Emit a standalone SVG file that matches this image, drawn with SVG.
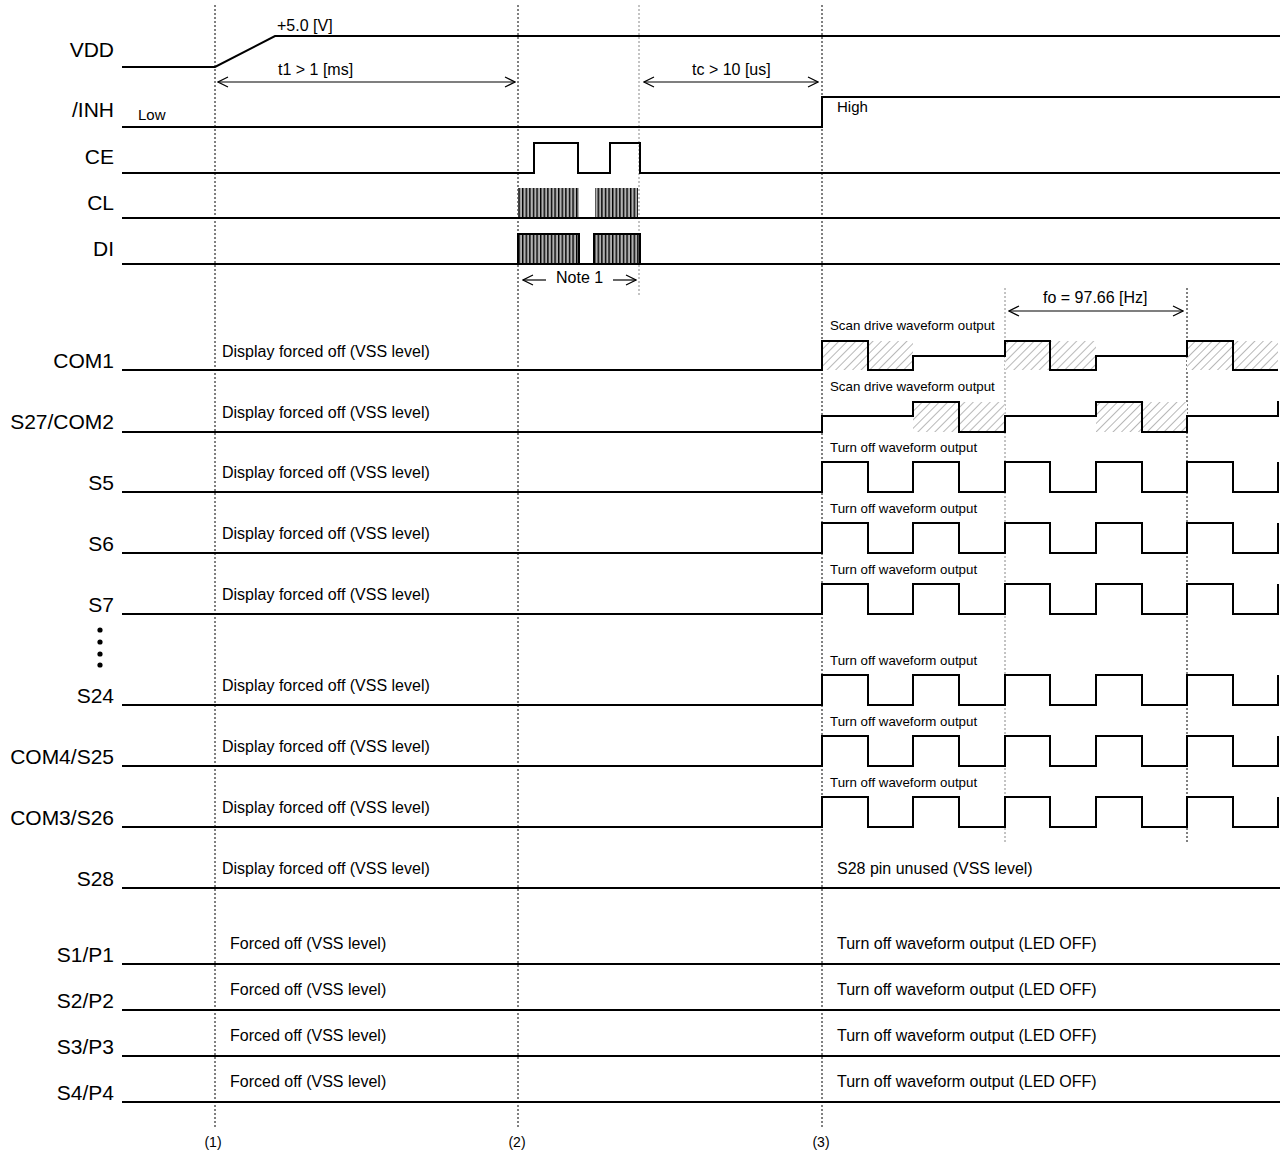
<svg xmlns="http://www.w3.org/2000/svg" width="1282" height="1151" viewBox="0 0 1282 1151">
<defs>
<pattern id="vstripe" width="3.6" height="10" patternUnits="userSpaceOnUse">
<rect width="3.6" height="10" fill="#b0b0b0"/>
<rect width="1.4" height="10" fill="#000"/>
</pattern>
<pattern id="hatch" width="6" height="6" patternUnits="userSpaceOnUse" patternTransform="rotate(45)">
<rect width="6" height="6" fill="#fff"/>
<line x1="0" y1="0" x2="0" y2="6" stroke="#999" stroke-width="1.4"/>
</pattern>
<marker id="ah" markerWidth="12" markerHeight="12" refX="11" refY="6" orient="auto-start-reverse" markerUnits="userSpaceOnUse">
<path d="M1,1 L11,6 L1,11" fill="none" stroke="#000" stroke-width="1.2"/>
</marker>
</defs>
<style>
.sig{fill:none;stroke:#000;stroke-width:2}
.lbl{font-family:"Liberation Sans",Arial,sans-serif;font-size:21px;text-anchor:end;fill:#000}
.t16{font-family:"Liberation Sans",Arial,sans-serif;font-size:16px;fill:#000}
.t15{font-family:"Liberation Sans",Arial,sans-serif;font-size:15px;fill:#000}
.t13{font-family:"Liberation Sans",Arial,sans-serif;font-size:13.3px;fill:#000}
.t14c{font-family:"Liberation Sans",Arial,sans-serif;font-size:14px;fill:#000;text-anchor:middle}
.vd{stroke:#000;stroke-width:1;stroke-dasharray:2,2;fill:none}
.vg{stroke:#888;stroke-width:1;stroke-dasharray:2,2;fill:none}
.dim{stroke:#000;stroke-width:1.2;fill:none;marker-start:url(#ah);marker-end:url(#ah)}
</style>
<rect width="1282" height="1151" fill="#fff"/>

<g id="guides">
<line class="vd" x1="215" y1="5" x2="215" y2="1128"/>
<line class="vd" x1="518" y1="5" x2="518" y2="1128"/>
<line class="vg" x1="639" y1="5" x2="639" y2="297"/>
<line class="vd" x1="822" y1="5" x2="822" y2="1128"/>
<line class="vg" x1="1005" y1="288" x2="1005" y2="842"/>
<line class="vd" x1="1187" y1="288" x2="1187" y2="842"/>
<text class="t14c" x="213" y="1147">(1)</text>
<text class="t14c" x="517" y="1147">(2)</text>
<text class="t14c" x="821" y="1147">(3)</text>
</g>

<g id="connectors">
<line class="dim" x1="218" y1="82" x2="515" y2="82"/>
<text class="t16" x="278" y="75">t1 &gt; 1 [ms]</text>
<line class="dim" x1="644" y1="82" x2="818" y2="82"/>
<text class="t16" x="692" y="75">tc &gt; 10 [us]</text>
<line class="dim" x1="1009" y1="311" x2="1183" y2="311"/>
<text class="t16" x="1043" y="303">fo = 97.66 [Hz]</text>
<line x1="523" y1="280" x2="546" y2="280" stroke="#000" stroke-width="1.2" marker-start="url(#ah)"/>
<line x1="613" y1="280" x2="636" y2="280" stroke="#000" stroke-width="1.2" marker-end="url(#ah)"/>
<text class="t16" x="556" y="283">Note 1</text>
</g>

<g id="VDD">
<text class="lbl" x="114" y="57">VDD</text>
<path class="sig" d="M122,67 H215 L275,36 H1280"/>
<text class="t16" x="277" y="31">+5.0 [V]</text>
</g>
<g id="INH">
<text class="lbl" x="114" y="117">/INH</text>
<path class="sig" d="M122,127 H822 V97 H1280"/>
<text class="t15" x="138" y="120">Low</text>
<text class="t15" x="837" y="112">High</text>
</g>
<g id="CE">
<text class="lbl" x="114" y="164">CE</text>
<path class="sig" d="M122,173 H534 V143 H578 V173 H610 V143 H640 V173 H1280"/>
</g>
<g id="CL">
<text class="lbl" x="114" y="210">CL</text>
<rect x="518" y="188" width="61" height="30" fill="url(#vstripe)"/>
<rect x="595" y="188" width="43" height="30" fill="url(#vstripe)"/>
<path class="sig" d="M122,218 H1280"/>
</g>
<g id="DI">
<text class="lbl" x="114" y="256">DI</text>
<rect x="518" y="234" width="61" height="30" fill="url(#vstripe)" stroke="#000" stroke-width="2"/>
<rect x="594" y="234" width="46" height="30" fill="url(#vstripe)" stroke="#000" stroke-width="2"/>
<path class="sig" d="M122,264 H1280"/>
</g>

<g id="COM1">
<text class="lbl" x="114" y="368">COM1</text>
<text class="t16" x="222" y="357">Display forced off (VSS level)</text>
<text class="t13" x="830" y="330">Scan drive waveform output</text>
<rect x="822" y="341" width="91" height="29" fill="url(#hatch)"/>
<rect x="1005" y="341" width="91" height="29" fill="url(#hatch)"/>
<rect x="1187" y="341" width="91" height="29" fill="url(#hatch)"/>
<path class="sig" d="M122,370 H822 V341 H868 V370 H913 V356 H1005 V341 H1050 V370 H1096 V356 H1187 V341 H1233 V370 H1278"/>
</g>
<g id="S27COM2">
<text class="lbl" x="114" y="429">S27/COM2</text>
<text class="t16" x="222" y="418">Display forced off (VSS level)</text>
<text class="t13" x="830" y="391">Scan drive waveform output</text>
<rect x="913" y="402" width="92" height="30" fill="url(#hatch)"/>
<rect x="1096" y="402" width="91" height="30" fill="url(#hatch)"/>
<path class="sig" d="M122,432 H822 V416 H913 V402 H959 V432 H1005 V416 H1096 V402 H1142 V432 H1187 V416 H1278 V401"/>
</g>
<g id="S5">
<text class="lbl" x="114" y="490">S5</text>
<text class="t16" x="222" y="478">Display forced off (VSS level)</text>
<text class="t13" x="830" y="452">Turn off waveform output</text>
<path class="sig" d="M122,492 H822 V462 H868 V492 H913 V462 H959 V492 H1005 V462 H1050 V492 H1096 V462 H1142 V492 H1187 V462 H1233 V492 H1278 V462"/>
</g>
<g id="S6">
<text class="lbl" x="114" y="551">S6</text>
<text class="t16" x="222" y="539">Display forced off (VSS level)</text>
<text class="t13" x="830" y="513">Turn off waveform output</text>
<path class="sig" d="M122,553 H822 V523 H868 V553 H913 V523 H959 V553 H1005 V523 H1050 V553 H1096 V523 H1142 V553 H1187 V523 H1233 V553 H1278 V523"/>
</g>
<g id="S7">
<text class="lbl" x="114" y="612">S7</text>
<text class="t16" x="222" y="600">Display forced off (VSS level)</text>
<text class="t13" x="830" y="574">Turn off waveform output</text>
<path class="sig" d="M122,614 H822 V584 H868 V614 H913 V584 H959 V614 H1005 V584 H1050 V614 H1096 V584 H1142 V614 H1187 V584 H1233 V614 H1278 V584"/>
</g>
<g id="dots">
<circle cx="100" cy="630" r="2.6"/>
<circle cx="100" cy="642" r="2.6"/>
<circle cx="100" cy="654" r="2.6"/>
<circle cx="100" cy="665" r="2.6"/>
</g>
<g id="S24">
<text class="lbl" x="114" y="703">S24</text>
<text class="t16" x="222" y="691">Display forced off (VSS level)</text>
<text class="t13" x="830" y="665">Turn off waveform output</text>
<path class="sig" d="M122,705 H822 V675 H868 V705 H913 V675 H959 V705 H1005 V675 H1050 V705 H1096 V675 H1142 V705 H1187 V675 H1233 V705 H1278 V675"/>
</g>
<g id="COM4S25">
<text class="lbl" x="114" y="764">COM4/S25</text>
<text class="t16" x="222" y="752">Display forced off (VSS level)</text>
<text class="t13" x="830" y="726">Turn off waveform output</text>
<path class="sig" d="M122,766 H822 V736 H868 V766 H913 V736 H959 V766 H1005 V736 H1050 V766 H1096 V736 H1142 V766 H1187 V736 H1233 V766 H1278 V736"/>
</g>
<g id="COM3S26">
<text class="lbl" x="114" y="825">COM3/S26</text>
<text class="t16" x="222" y="813">Display forced off (VSS level)</text>
<text class="t13" x="830" y="787">Turn off waveform output</text>
<path class="sig" d="M122,827 H822 V797 H868 V827 H913 V797 H959 V827 H1005 V797 H1050 V827 H1096 V797 H1142 V827 H1187 V797 H1233 V827 H1278 V797"/>
</g>
<g id="S28">
<text class="lbl" x="114" y="886">S28</text>
<text class="t16" x="222" y="874">Display forced off (VSS level)</text>
<text class="t16" x="837" y="874">S28 pin unused (VSS level)</text>
<path class="sig" d="M122,888 H1280"/>
</g>
<g id="S1P1">
<text class="lbl" x="114" y="962">S1/P1</text>
<text class="t16" x="230" y="949">Forced off (VSS level)</text>
<text class="t16" x="837" y="949">Turn off waveform output (LED OFF)</text>
<path class="sig" d="M122,964 H1280"/>
</g>
<g id="S2P2">
<text class="lbl" x="114" y="1008">S2/P2</text>
<text class="t16" x="230" y="995">Forced off (VSS level)</text>
<text class="t16" x="837" y="995">Turn off waveform output (LED OFF)</text>
<path class="sig" d="M122,1010 H1280"/>
</g>
<g id="S3P3">
<text class="lbl" x="114" y="1054">S3/P3</text>
<text class="t16" x="230" y="1041">Forced off (VSS level)</text>
<text class="t16" x="837" y="1041">Turn off waveform output (LED OFF)</text>
<path class="sig" d="M122,1056 H1280"/>
</g>
<g id="S4P4">
<text class="lbl" x="114" y="1100">S4/P4</text>
<text class="t16" x="230" y="1087">Forced off (VSS level)</text>
<text class="t16" x="837" y="1087">Turn off waveform output (LED OFF)</text>
<path class="sig" d="M122,1102 H1280"/>
</g>
</svg>
